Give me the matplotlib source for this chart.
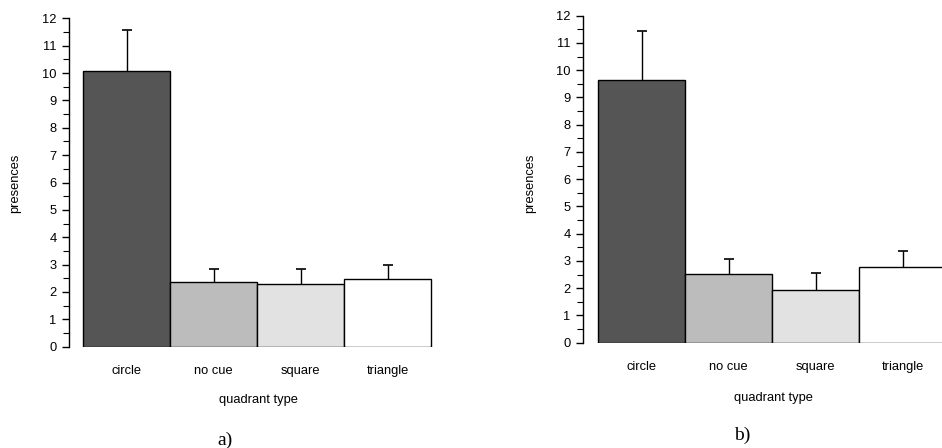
import matplotlib
matplotlib.use("Agg")
import matplotlib.pyplot as plt
import numpy as np
from matplotlib.ticker import MultipleLocator

categories = ["circle", "no cue", "square", "triangle"]
values_a = [10.06, 2.37, 2.29, 2.47]
errors_a = [1.50, 0.48, 0.56, 0.51]
values_b = [9.64, 2.51, 1.93, 2.77]
errors_b = [1.80, 0.55, 0.62, 0.61]
bar_colors = ["#555555", "#bcbcbc", "#e2e2e2", "#ffffff"]

W, H = 942, 448
fig = plt.figure(figsize=(W / 100, H / 100), dpi=100)
plt.rcParams['font.family'] = ['Liberation Sans', 'DejaVu Sans']
FS = 9.3


def panel(left_px, top_px, bottom_px, right_px, offset_px, values, errors,
          ylab_x, xlab_y, xlab_x, tag, tag_x, tag_y):
    unit = 87.0
    ax = fig.add_axes([left_px / W, (H - bottom_px) / H,
                       (right_px - left_px) / W, (bottom_px - top_px) / H])
    x = list(range(len(categories)))
    ax.bar(x, values, width=1.0, color=bar_colors, edgecolor="black",
           linewidth=1.0, zorder=2)
    _, caplines, _ = ax.errorbar(x, values, yerr=[[0] * len(errors), errors],
                                 fmt="none", ecolor="black", elinewidth=1.0,
                                 capsize=3.5, capthick=1.2, zorder=3)
    for cl in caplines:
        if np.allclose(cl.get_ydata(), values):
            cl.set_visible(False)
    x0 = -0.5 - offset_px / unit
    ax.set_xlim(x0, x0 + (right_px - left_px) / unit)
    ax.set_ylim(0, 12)
    ax.yaxis.set_major_locator(MultipleLocator(1))
    ax.yaxis.set_minor_locator(MultipleLocator(0.5))
    ax.set_xticks(x)
    ax.set_xticklabels(categories)
    for s in ["top", "right", "bottom"]:
        ax.spines[s].set_visible(False)
    ax.spines["left"].set_linewidth(1.0)
    ax.tick_params(axis="y", which="major", length=5, width=1.0, pad=4,
                   labelsize=FS)
    ax.tick_params(axis="y", which="minor", length=4, width=0.8)
    ax.tick_params(axis="x", length=0, pad=13, labelsize=FS)
    fig.text(ylab_x / W, (H - 183) / H, "presences", rotation=90,
             ha="center", va="center", fontsize=FS)
    fig.text(xlab_x / W, (H - xlab_y) / H, "quadrant type",
             ha="center", va="center", fontsize=FS)
    fig.text(tag_x / W, (H - tag_y) / H, tag, ha="center", va="center",
             fontsize=14, family=["Liberation Serif", "DejaVu Serif"])
    return ax


panel(69, 18.3, 346.7, 440, 14, values_a, errors_a,
      15, 400, 258, "a)", 225, 440)
panel(583, 15.7, 342.7, 942, 15, values_b, errors_b,
      530, 398, 773, "b)", 742, 435)

fig.savefig("out.png", dpi=100)
